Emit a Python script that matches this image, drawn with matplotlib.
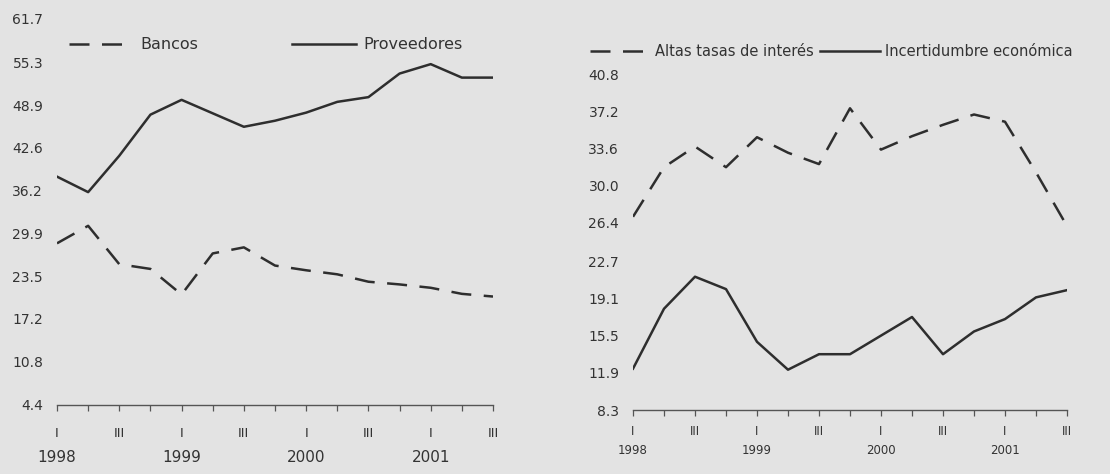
import matplotlib
matplotlib.use("Agg")
import matplotlib.pyplot as plt

plt.rcParams['font.family'] = ['DejaVu Sans']

# quarters 1998 I .. 2001 III
quarters = list(range(15))
quarter_labels = ['I', '', 'III', '', 'I', '', 'III', '', 'I', '', 'III', '', 'I', '', 'III']
years = ['1998', '1999', '2000', '2001']
year_pos = [0, 4, 8, 12]

# left panel: financing sources
bancos = [28.4, 31.0, 25.3, 24.6, 20.8, 26.9, 27.8, 25.1, 24.4, 23.8, 22.7, 22.3, 21.8, 20.9, 20.5]
proveedores = [38.3, 36.0, 41.4, 47.5, 49.7, 47.7, 45.7, 46.6, 47.8, 49.4, 50.1, 53.6, 55.0, 53.0, 53.0]
left_yticks = [4.4, 10.8, 17.2, 23.5, 29.9, 36.2, 42.6, 48.9, 55.3, 61.7]

# right panel: obstacles
tasas = [27.0, 31.8, 33.8, 31.8, 34.7, 33.2, 32.1, 37.5, 33.5, 34.8, 35.9, 36.9, 36.2, 31.3, 26.1]
incertidumbre = [12.3, 18.1, 21.2, 20.0, 14.9, 12.2, 13.7, 13.7, 15.5, 17.3, 13.7, 15.9, 17.1, 19.2, 19.9]
right_yticks = [8.3, 11.9, 15.5, 19.1, 22.7, 26.4, 30.0, 33.6, 37.2, 40.8]

BG = '#e3e3e3'
INK = '#2e2e2e'
TXT = '#333333'
DASH = (8, 5)

fig = plt.figure(figsize=(11.1, 4.74), dpi=100, facecolor=BG)
ax1 = fig.add_axes([57 / 1110, 1 - 405 / 474, 436 / 1110, 386 / 474])
ax2 = fig.add_axes([633 / 1110, 1 - 410 / 474, 434 / 1110, 373 / 474])


def style_axis(ax, yticks, ylim, tick_fs, tick_pad, year_fs, year_off):
    ax.set_facecolor('none')
    for side in ('top', 'right', 'left'):
        ax.spines[side].set_visible(False)
    ax.spines['bottom'].set_color('#555555')
    ax.spines['bottom'].set_linewidth(1.0)
    ax.set_xlim(0, 14)
    ax.set_ylim(*ylim)
    ax.set_yticks(yticks)
    ax.set_yticklabels([f'{v:.1f}' for v in yticks])
    ax.tick_params(axis='y', length=0, pad=10, labelsize=10, labelcolor=TXT)
    ax.set_xticks(quarters)
    ax.set_xticklabels(quarter_labels)
    ax.tick_params(axis='x', length=4, width=0.9, direction='out', color='#555555',
                   pad=tick_pad, labelsize=tick_fs, labelcolor=TXT)
    for pos, yr in zip(year_pos, years):
        ax.annotate(yr, xy=(pos, 0), xycoords=('data', 'axes fraction'),
                    xytext=(0, year_off), textcoords='offset points',
                    ha='center', va='center', fontsize=year_fs, color=TXT)


style_axis(ax1, left_yticks, (4.4, 61.7), 9.5, 12, 11, -38)
ax1.plot(quarters, bancos, color=INK, lw=1.8, dashes=DASH, label='Bancos')
ax1.plot(quarters, proveedores, color=INK, lw=1.8, label='Proveedores')
ax1.legend(loc='upper left', bbox_to_anchor=(-0.005, 0.99), ncol=2, frameon=False,
           fontsize=11.5, handlelength=4.0, handletextpad=0.45, columnspacing=5.9,
           labelcolor=TXT)

style_axis(ax2, right_yticks, (8.3, 44.4), 8.5, 7, 8.5, -29.5)
ax2.plot(quarters, tasas, color=INK, lw=1.8, dashes=DASH, label='Altas tasas de interés')
ax2.plot(quarters, incertidumbre, color=INK, lw=1.8, label='Incertidumbre económica')
ax2.legend(loc='upper left', bbox_to_anchor=(-0.13, 1.016), ncol=2, frameon=False,
           fontsize=10.5, handlelength=4.1, handletextpad=0.35, columnspacing=0.45,
           labelcolor=TXT)

fig.savefig('out.png', dpi=100, facecolor=BG)
